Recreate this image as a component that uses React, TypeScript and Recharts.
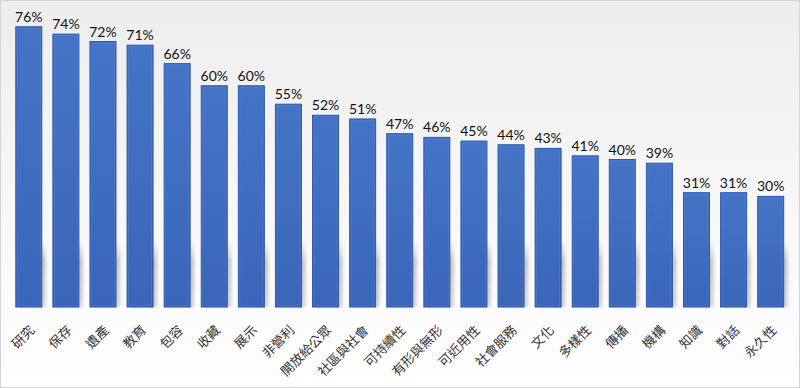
import React from "react";
import { BarChart, Bar, XAxis, YAxis, LabelList } from "recharts";

const categories = ["研究", "保存", "遺產", "教育", "包容", "收藏", "展示", "非營利", "開放給公眾", "社區與社會", "可持續性", "有形與無形", "可近用性", "社會服務", "文化", "多樣性", "傳播", "機構", "知識", "對話", "永久性"];
const values = [76, 74, 72, 71, 66, 60, 60, 55, 52, 51, 47, 46, 45, 44, 43, 41, 40, 39, 31, 31, 30];

const data = categories.map((c, i) => ({ name: c, value: values[i] }));

const BarShape = (props: any) => {
  const { x, y, width, height } = props;
  const bottom = y + height;
  const sh = Math.min(66, height);
  return (
    <g>
      <rect x={x + 4} y={bottom - sh} width={width} height={sh} fill="url(#shadowGrad)" filter="url(#blur)" />
      <rect x={x} y={y} width={width} height={height} fill="url(#barGrad)" stroke="#2a58ad" strokeWidth={1} />
      <rect x={x + 1.5} y={y + 1.5} width={Math.max(0, width - 3)} height={Math.max(0, height - 3)} fill="none" stroke="#5a86d2" strokeOpacity={0.5} strokeWidth={0.8} />
    </g>
  );
};

const Tick = (props: any) => {
  const { x, y, payload } = props;
  return (
    <g transform={`translate(${x + 7},${y + 16})`}>
      <text x={0} y={0} textAnchor="end" transform="rotate(-45)" fontSize={13} fill="#333" fontFamily="'Noto Sans CJK TC', sans-serif">
        {payload.value}
      </text>
    </g>
  );
};

export default function App() {
  return (
    <div style={{ position: "absolute", left: 0, top: 0, width: 800, height: 388, boxSizing: "border-box", border: "1px solid #d4d4d4", background: "linear-gradient(to bottom, #ededed 0%, #f7f7f7 50%, #ffffff 100%)" }}>
      <BarChart width={798} height={386} data={data} margin={{ top: 11, right: 10, bottom: 4, left: 9 }} barCategoryGap="15.6%">
        <defs>
          <linearGradient id="barGrad" x1="0" y1="0" x2="0" y2="1">
            <stop offset="0%" stopColor="#4574c6" />
            <stop offset="100%" stopColor="#3a65b9" />
          </linearGradient>
          <linearGradient id="shadowGrad" x1="0" y1="0" x2="0" y2="1">
            <stop offset="0%" stopColor="#999" stopOpacity={0} />
            <stop offset="30%" stopColor="#999" stopOpacity={0.55} />
            <stop offset="100%" stopColor="#aaa" stopOpacity={0.5} />
          </linearGradient>
          <filter id="blur" x="-50%" y="-50%" width="200%" height="200%">
            <feGaussianBlur stdDeviation="1.8" />
          </filter>
        </defs>
        <XAxis dataKey="name" axisLine={false} tickLine={false} interval={0} height={76} tick={<Tick />} />
        <YAxis hide domain={[0, 80]} />
        <Bar dataKey="value" isAnimationActive={false} shape={<BarShape />}>
          <LabelList dataKey="value" position="top" offset={5} formatter={(v: any) => `${v}%`} style={{ fontSize: 14, fill: "#111", fontFamily: "Lato, sans-serif" }} />
        </Bar>
      </BarChart>
    </div>
  );
}
